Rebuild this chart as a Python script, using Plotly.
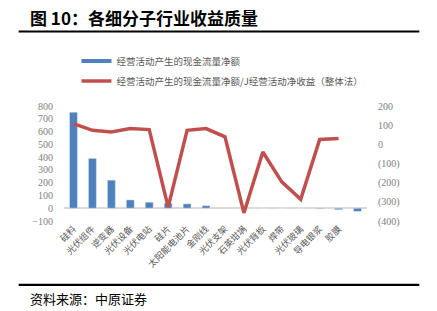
import plotly.graph_objects as go

categories = ["硅料", "光伏组件", "逆变器", "光伏设备", "光伏电站", "硅片", "太阳能电池片",
              "金刚线", "光伏支架", "石英坩埚", "光伏背板", "焊带", "光伏玻璃", "导电银浆", "胶膜", " "]
cash_flow = [752, 390, 220, 65, 47, 39, 34, 20, 3, 1, 0.5, 0.5, 0, -5, -12, -25]
ratio = [108, 73, 65, 82, 77, -328, 73, 82, 39, -358, -40, -196, -287, 25, 30, None]

left_ticks = [800, 700, 600, 500, 400, 300, 200, 100, 0, -100]
left_text = ["800", "700", "600", "500", "400", "300", "200", "100", "0", "−100"]
right_ticks = [200, 100, 0, -100, -200, -300, -400]
right_text = ["200", "100", "0", "(100)", "(200)", "(300)", "(400)"]

name_bar = "经营活动产生的现金流量净额"
name_line = "经营活动产生的现金流量净额/J经营活动净收益（整体法）"

BLUE = "#4F81BD"
RED = "#C0504D"
FONT = "Liberation Serif, Noto Sans CJK SC"

fig = go.Figure()
fig.add_trace(go.Bar(x=categories, y=cash_flow, marker_color=BLUE, width=0.42,
                     showlegend=False, yaxis="y"))
# legend proxy for bar series (line style as in original)
fig.add_trace(go.Scatter(x=[categories[0]], y=[None], mode="lines", name=name_bar,
                         line=dict(color=BLUE, width=4), legend="legend", yaxis="y"))
fig.add_trace(go.Scatter(x=categories, y=ratio, mode="lines", name=name_line,
                         line=dict(color=RED, width=3.5), yaxis="y2", legend="legend2",
                         connectgaps=False))

W, H = 437, 311
L, R, T, B = 63.5, 367.5, 105.7, 221.0

def px(x):
    return (x - L) / (R - L)

def py(y):
    return (B - y) / (B - T)

fig.update_layout(
    width=W, height=H,
    margin=dict(l=L, r=W - R, t=T, b=H - B, pad=0),
    paper_bgcolor="white", plot_bgcolor="white",
    font=dict(family=FONT, size=10, color="#595959"),
    bargap=0.5,
    xaxis=dict(type="category", tickangle=-45, showgrid=False, showline=False,
               ticks="", tickfont=dict(size=9, family="Noto Sans CJK SC", color="#595959"),
               range=[-0.5, len(categories) - 0.5]),
    yaxis=dict(range=[-100, 800], tickvals=left_ticks, ticktext=left_text, showgrid=False,
               zeroline=True, zerolinecolor="#D9D9D9", zerolinewidth=1.5,
               showline=False, ticks="", ticklabelstandoff=10,
               tickfont=dict(size=10, color="#808080")),
    yaxis2=dict(range=[-400, 200], overlaying="y", side="right", tickvals=right_ticks,
                ticktext=right_text, showgrid=False, zeroline=False, showline=False,
                ticks="", ticklabelstandoff=10, tickfont=dict(size=10, color="#808080")),
    legend=dict(x=px(76), y=py(46), xanchor="left", yanchor="top", bgcolor="rgba(0,0,0,0)",
                font=dict(size=9.5, family="Noto Sans CJK SC", color="#595959"),
                itemwidth=30),
    legend2=dict(x=px(76), y=py(66), xanchor="left", yanchor="top", bgcolor="rgba(0,0,0,0)",
                 font=dict(size=9.5, family="Noto Sans CJK SC", color="#595959"),
                 itemwidth=30),
    shapes=[
        dict(type="line", xref="paper", yref="paper", x0=px(18), x1=px(420), y0=py(31), y1=py(31),
             line=dict(color="black", width=2.2)),
        dict(type="line", xref="paper", yref="paper", x0=px(18), x1=px(420), y0=py(285), y1=py(285),
             line=dict(color="black", width=2.2)),
    ],
    annotations=[
        dict(text="<b>图 10：各细分子行业收益质量</b>", xref="paper", yref="paper",
             x=px(27), y=py(17), xanchor="left", yanchor="middle", showarrow=False,
             font=dict(size=17, family="Noto Sans CJK SC", color="black")),
        dict(text="资料来源：中原证券", xref="paper", yref="paper",
             x=px(27), y=py(299), xanchor="left", yanchor="middle", showarrow=False,
             font=dict(size=13, family="Noto Sans CJK SC", color="black")),
    ],
)

fig.write_html("out.html")
